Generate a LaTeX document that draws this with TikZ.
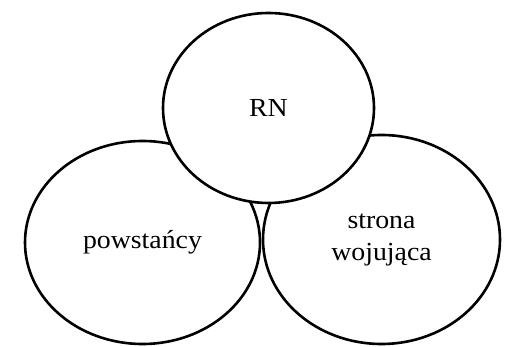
\documentclass[tikz,border=0pt]{standalone}
\usepackage{fontspec}
\setmainfont[FakeStretch=1.07]{Liberation Serif}
\usetikzlibrary{shapes.geometric}
\begin{document}
\begin{tikzpicture}[x=1pt,y=1pt,
  blob/.style={ellipse,draw=black,line width=2.6pt,fill=white,inner sep=0pt,
    align=center,font=\fontsize{26}{32}\selectfont}]
\useasboundingbox (0,0) rectangle (513,347);
\node[blob,minimum width=235,minimum height=203] (pow) at (142.5,104.5) {powstańcy};
\node[blob,minimum width=237,minimum height=209] (str) at (381.5,107.5) {strona\\wojująca};
\node[blob,minimum width=211,minimum height=190] (rn) at (268.5,239) {RN};
\end{tikzpicture}
\end{document}
